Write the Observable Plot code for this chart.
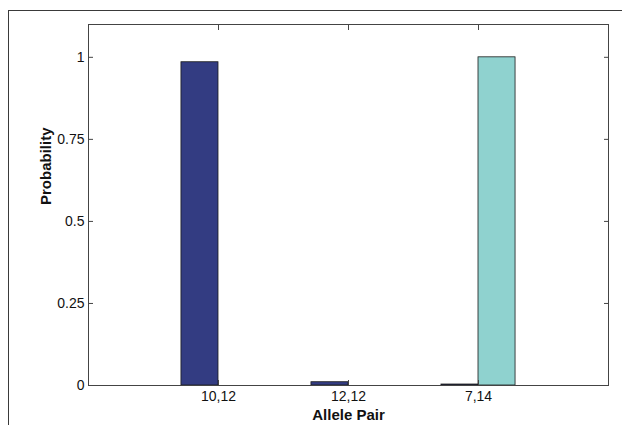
<!DOCTYPE html>
<html>
<head>
<meta charset="utf-8">
<script src="https://cdn.jsdelivr.net/npm/d3@7"></script>
<script src="https://cdn.jsdelivr.net/npm/@observablehq/plot@0.6"></script>
<style>
  html, body { margin: 0; padding: 0; background: #fff; overflow: hidden; }
  #wrap { position: relative; width: 622px; height: 425px; }
  #border { position: absolute; left: 8px; top: 10px; width: 700px; height: 500px;
            border-left: 1.5px solid #3a3a3a; border-top: 1.5px solid #3a3a3a; pointer-events: none; }
</style>
</head>
<body>
<div id="wrap"><div id="border"></div></div>
<script>
const categories = ["10,12", "12,12", "7,14"];
const seriesNames = ["A", "B"];
const seriesA = [0.985, 0.01, 0.003];
const seriesB = [0.0, 0.0, 1.0];
const yTicks = [0, 0.25, 0.5, 0.75, 1];
const xLabel = "Allele Pair";
const yLabel = "Probability";

const barWidth = 0.285;
const rows = [];
categories.forEach((c, i) => {
  const center = i + 1;
  rows.push({cat: c, series: "A", value: seriesA[i], x1: center - barWidth, x2: center});
  rows.push({cat: c, series: "B", value: seriesB[i], x1: center, x2: center + barWidth});
});

const font = "'Liberation Sans', Arial, Helvetica, sans-serif";
const chart = Plot.plot({
  width: 622,
  height: 425,
  marginLeft: 88,
  marginRight: 14,
  marginTop: 24,
  marginBottom: 40,
  style: {fontFamily: font, fontSize: "14px", color: "#111", background: "transparent"},
  x: {domain: [0, categories.length + 1], axis: null},
  y: {domain: [0, 1.1], axis: null},
  color: {domain: seriesNames, range: ["#333c82", "#8fd2cf"]},
  marks: [
    Plot.rectY(rows, {x1: "x1", x2: "x2", y1: 0, y2: "value", fill: "series", stroke: "#1a1a1a", strokeWidth: 0.8}),
    Plot.frame({stroke: "#444", strokeWidth: 1}),
    Plot.axisY({anchor: "left", ticks: yTicks, tickFormat: d => String(d), tickSize: -5, tickPadding: 9, label: null, stroke: "#444", fontSize: 14}),
    Plot.axisY({anchor: "right", ticks: yTicks, tickFormat: null, text: null, tickSize: -5, label: null, stroke: "#444"}),
    Plot.axisX({anchor: "bottom", ticks: categories.map((c, i) => i + 1), tickFormat: d => categories[d - 1], tickSize: -5, tickPadding: 11, label: null, stroke: "#444", fontSize: 14}),
    Plot.axisX({anchor: "top", ticks: categories.map((c, i) => i + 1), text: null, tickSize: -5, label: null, stroke: "#444"}),
    Plot.text([xLabel], {frameAnchor: "bottom", dy: 30, lineAnchor: "middle", fontWeight: "bold", fontSize: 15}),
    Plot.text([yLabel], {frameAnchor: "left", dx: -42, rotate: -90, lineAnchor: "middle", fontWeight: "bold", fontSize: 15})
  ]
});
document.getElementById("wrap").prepend(chart);
</script>
</body>
</html>
